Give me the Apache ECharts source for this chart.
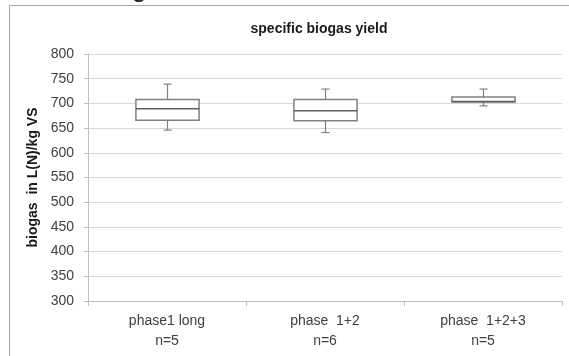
<!DOCTYPE html>
<html>
<head>
<meta charset="utf-8">
<script src="https://cdn.jsdelivr.net/npm/echarts@6/dist/echarts.min.js"></script>
<style>
  html, body { margin: 0; padding: 0; background: #fff; }
  #chart { width: 569px; height: 356px; }
</style>
</head>
<body>
<div id="chart"></div>
<script>
// categories on the x axis
const categories = ['phase1 long\nn=5', 'phase  1+2\nn=6', 'phase  1+2+3\nn=5']

// box stats per category: min, Q1, median, Q3, max
const lowValues = [646, 641, 695]
const q1Values = [666, 665, 703]
const medianValues = [689, 685, 704]
const q3Values = [708, 708, 713]
const highValues = [739, 729, 729]

const yTicks = { min: 300, max: 800, interval: 50 }

const font = 'Liberation Sans'

const boxData = categories.map((c, i) => [i, lowValues[i], q1Values[i], medianValues[i], q3Values[i], highValues[i]])

const chart = echarts.init(document.getElementById('chart'))

function renderBox(params, api) {
  const idx = api.value(0)
  const low = api.coord([idx, api.value(1)])
  const q1 = api.coord([idx, api.value(2)])
  const med = api.coord([idx, api.value(3)])
  const q3 = api.coord([idx, api.value(4)])
  const high = api.coord([idx, api.value(5)])
  const w = api.size([1, 0])[0] * 0.4
  const cap = 4
  const cx = Math.round(q1[0]) + 0.5
  const stroke = { stroke: '#808080', lineWidth: 1.2, fill: null }
  return {
    type: 'group',
    children: [
      { type: 'line', shape: { x1: cx, y1: high[1], x2: cx, y2: q3[1] }, style: stroke },
      { type: 'line', shape: { x1: cx - cap, y1: high[1], x2: cx + cap, y2: high[1] }, style: stroke },
      { type: 'line', shape: { x1: cx, y1: q1[1], x2: cx, y2: low[1] }, style: stroke },
      { type: 'line', shape: { x1: cx - cap, y1: low[1], x2: cx + cap, y2: low[1] }, style: stroke },
      { type: 'rect', shape: { x: cx - w / 2, y: q3[1], width: w, height: q1[1] - q3[1] }, style: { stroke: '#808080', lineWidth: 1.5, fill: '#fff' } },
      { type: 'line', shape: { x1: cx - w / 2, y1: med[1], x2: cx + w / 2, y2: med[1] }, style: { stroke: '#606060', lineWidth: 1.5 } }
    ]
  }
}

chart.setOption({
  animation: false,
  textStyle: { fontFamily: font },
  title: {
    text: 'specific biogas yield',
    left: 314,
    top: 17,
    textAlign: 'center',
    textStyle: { fontSize: 14, fontWeight: 'bold', color: '#1a1a1a', fontFamily: font }
  },
  graphic: [{
    type: 'rect',
    shape: { x: 9.5, y: 5.5, width: 600, height: 400 },
    style: { fill: null, stroke: '#a6a6a6', lineWidth: 1 },
    silent: true
  }, {
    type: 'text',
    left: 132,
    top: -23,
    style: { text: 'g', font: '26px Liberation Sans', fill: '#222' },
    silent: true
  }],
  grid: { left: 88, right: 7, top: 54, bottom: 55 },
  xAxis: {
    type: 'category',
    data: categories,
    axisLine: { lineStyle: { color: '#bfbfbf' } },
    axisTick: { show: true, length: 5, lineStyle: { color: '#bfbfbf' } },
    axisLabel: { fontSize: 14, lineHeight: 20, margin: 10, color: '#404040', fontFamily: font },
    splitLine: { show: false }
  },
  yAxis: {
    type: 'value',
    min: yTicks.min,
    max: yTicks.max,
    interval: yTicks.interval,
    name: 'biogas  in L(N)/kg VS',
    nameLocation: 'middle',
    nameGap: 47,
    nameTextStyle: { fontSize: 14, fontWeight: 'bold', color: '#1a1a1a', fontFamily: font },
    axisLine: { show: true, lineStyle: { color: '#bfbfbf' } },
    axisTick: { show: true, length: 4, lineStyle: { color: '#bfbfbf' } },
    axisLabel: { fontSize: 14, margin: 14, color: '#404040', fontFamily: font },
    splitLine: { lineStyle: { color: '#d9d9d9' } }
  },
  series: [{
    type: 'custom',
    renderItem: renderBox,
    encode: { x: 0, y: [1, 2, 3, 4, 5] },
    data: boxData,
    z: 5
  }]
})
</script>
</body>
</html>
